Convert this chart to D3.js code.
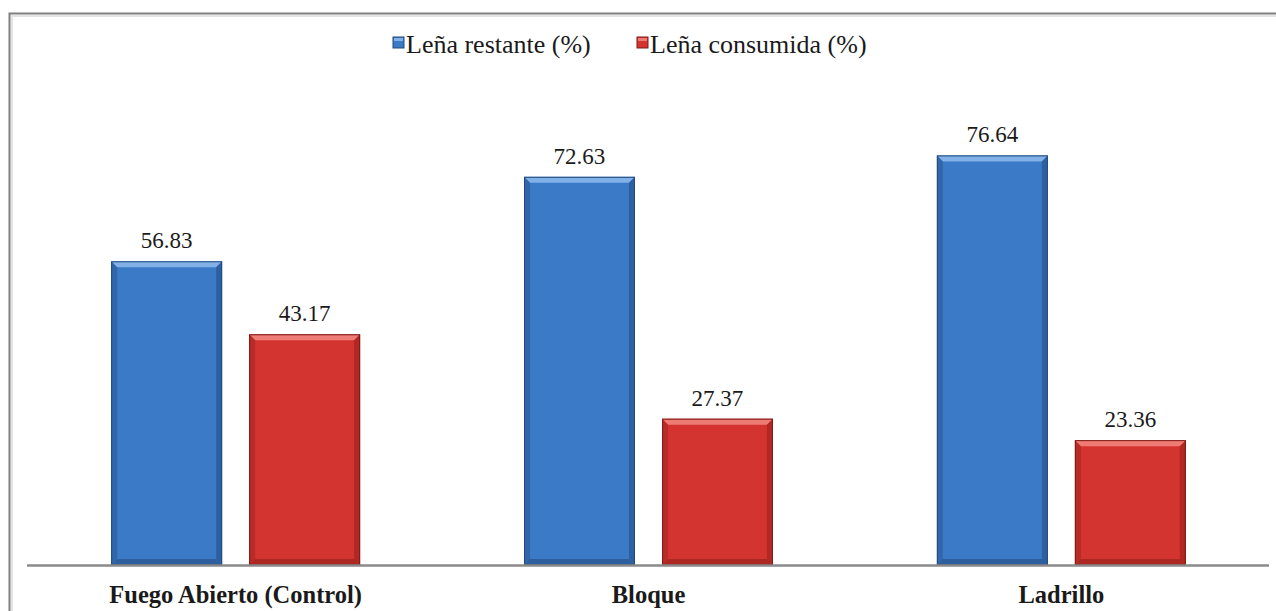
<!DOCTYPE html>
<html>
<head>
<meta charset="utf-8">
<script src="https://cdn.jsdelivr.net/npm/d3@7"></script>
<style>
  html, body { margin: 0; padding: 0; background: #fff; }
  svg { display: block; }
  svg text { font-family: "Liberation Serif"; }
</style>
</head>
<body>
<svg id="chart" width="1276" height="611"></svg>
<script>
// Firewood remaining vs consumed per stove type
const categories = ["Fuego Abierto (Control)", "Bloque", "Ladrillo"];
const seriesNames = ["Leña restante (%)", "Leña consumida (%)"];
const restante = [56.83, 72.63, 76.64];
const consumida = [43.17, 27.37, 23.36];

const palette = [
  { fill: "#3b7ac6", light: "#82b1e8", dark: "#2a5894", edge: "#23497d" },
  { fill: "#d4342f", light: "#ef7c74", dark: "#a32420", edge: "#7f1a17" }
];

const svg = d3.select("#chart");
const W = 1276, H = 611;

// outer frame (runs off the right and bottom edges)
svg.append("rect")
  .attr("x", 9.5).attr("y", 13.5)
  .attr("width", W + 20).attr("height", H + 20)
  .attr("fill", "#fff")
  .attr("stroke", "#7f7f7f").attr("stroke-width", 2);
svg.append("path")
  .attr("d", `M12,${H} V16 H${W}`)
  .attr("fill", "none").attr("stroke", "#e4e4e4").attr("stroke-width", 2);

const margin = { left: 29, right: 8, top: 84, bottom: 46 };
const baseY = 565;

const x0 = d3.scaleBand()
  .domain(categories)
  .range([margin.left, W - margin.right])
  .paddingInner(0.397).paddingOuter(0.199);

const x1 = d3.scaleBand()
  .domain([0, 1])
  .range([0, x0.bandwidth()])
  .paddingInner(0.196);

const y = d3.scaleLinear().domain([0, 90]).range([baseY, margin.top]);

const rows = categories.map((c, i) => ({ cat: c, vals: [restante[i], consumida[i]] }));

const groups = svg.append("g").selectAll("g")
  .data(rows).join("g")
  .attr("transform", d => `translate(${x0(d.cat)},0)`);

const bars = groups.selectAll("g.bar")
  .data(d => d.vals.map((v, s) => ({ v, s })))
  .join("g").attr("class", "bar");

const b = 6; // bevel width
bars.each(function(d) {
  const g = d3.select(this);
  const p = palette[d.s];
  const xl = x1(d.s), w = x1.bandwidth();
  const yt = y(d.v), yb = y(0);
  const xr = xl + w;
  // body
  g.append("rect").attr("x", xl).attr("y", yt).attr("width", w).attr("height", yb - yt)
    .attr("fill", p.fill);
  // top bevel highlight
  g.append("path")
    .attr("d", `M${xl},${yt} H${xr} L${xr - b},${yt + b} H${xl + b} Z`)
    .attr("fill", p.light);
  // side bevels
  g.append("path")
    .attr("d", `M${xl},${yt} L${xl + b},${yt + b} V${yb - b} L${xl},${yb} Z`)
    .attr("fill", p.dark).attr("opacity", 0.55);
  g.append("path")
    .attr("d", `M${xr},${yt} L${xr - b},${yt + b} V${yb - b} L${xr},${yb} Z`)
    .attr("fill", p.dark).attr("opacity", 0.75);
  // bottom bevel
  g.append("path")
    .attr("d", `M${xl},${yb} L${xl + b},${yb - b} H${xr - b} L${xr},${yb} Z`)
    .attr("fill", p.dark).attr("opacity", 0.8);
  // outline
  g.append("rect").attr("x", xl + 0.5).attr("y", yt + 0.5).attr("width", w - 1).attr("height", yb - yt - 1)
    .attr("fill", "none").attr("stroke", p.edge).attr("stroke-width", 1);
  // value label
  g.append("text")
    .attr("x", xl + w / 2).attr("y", yt - 13)
    .attr("text-anchor", "middle")
    .attr("font-size", 23)
    .attr("fill", "#1a1a1a")
    .text(d.v.toFixed(2));
});

// category axis
const axis = d3.axisBottom(x0).tickSize(0).tickPadding(0);
const axG = svg.append("g").attr("transform", `translate(0,${baseY})`).call(axis);
axG.attr("font-family", null);
axG.select(".domain").attr("stroke", "#8a8a8a").attr("stroke-width", 2.5)
  .attr("d", `M${27},0.5H${1269}`);
axG.selectAll(".tick text")
  .attr("y", 38).attr("dy", null)
  .attr("font-size", 24.5).attr("font-weight", "bold")
  .attr("fill", "#1a1a1a");

// legend
const legend = svg.append("g").attr("transform", "translate(393,0)");
const legX = [0, 244];
seriesNames.forEach((name, i) => {
  const lg = legend.append("g").attr("transform", `translate(${legX[i]},0)`);
  lg.append("rect").attr("x", 0).attr("y", 37).attr("width", 11).attr("height", 11)
    .attr("fill", palette[i].fill).attr("stroke", palette[i].edge).attr("stroke-width", 1);
  lg.append("rect").attr("x", 1).attr("y", 38).attr("width", 9).attr("height", 3)
    .attr("fill", palette[i].light);
  lg.append("text").attr("x", 13).attr("y", 53)
    .attr("font-size", 26).attr("fill", "#1a1a1a")
    .text(name);
});
</script>
</body>
</html>
